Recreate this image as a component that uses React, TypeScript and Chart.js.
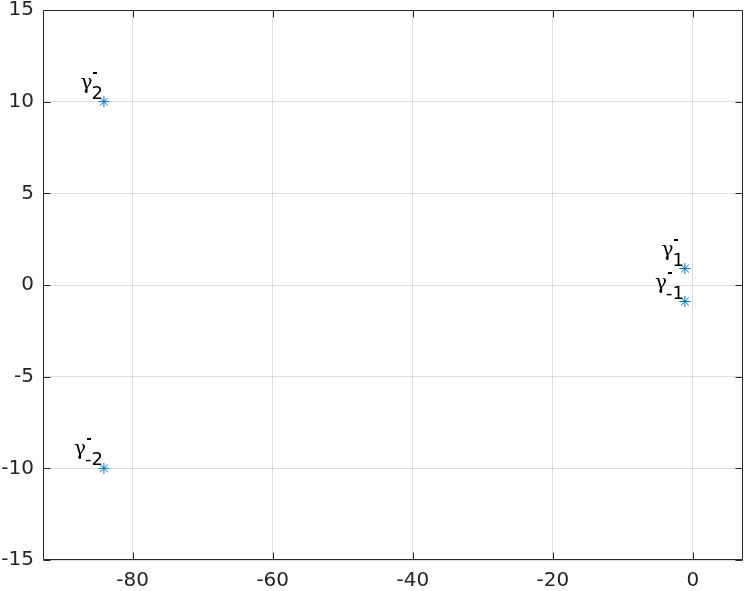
import React, { useEffect, useRef } from "react";
import { Chart, registerables } from "chart.js";

Chart.register(...registerables);

const xValues = [-84.1, -84.1, -1.15, -1.15];
const yValues = [10, -10, 0.9, -0.9];
const subLabels = ["2", "-2", "1", "-1"];
const xTicks = [-80, -60, -40, -20, 0];
const yTicks = [-15, -10, -5, 0, 5, 10, 15];

const AXIS = "#262626";
const FONT = "DejaVu Sans";

const decorPlugin = {
  id: "decor",
  afterDraw(chart: any) {
    const ctx = chart.ctx;
    const { left, right, top, bottom } = chart.chartArea;
    const xs = chart.scales.x;
    const ys = chart.scales.y;
    ctx.save();
    ctx.strokeStyle = AXIS;
    ctx.lineWidth = 1;
    const L = Math.round(left) + 0.5;
    const R = Math.round(right) - 0.5;
    const T = Math.round(top) + 0.5;
    const B = Math.round(bottom) - 0.5;
    ctx.beginPath();
    ctx.rect(L, T, R - L, B - T);
    ctx.stroke();
    const tl = 7;
    ctx.beginPath();
    xTicks.forEach((v) => {
      const px = Math.round(xs.getPixelForValue(v)) + 0.5;
      ctx.moveTo(px, B);
      ctx.lineTo(px, B - tl);
      ctx.moveTo(px, T);
      ctx.lineTo(px, T + tl);
    });
    yTicks.forEach((v) => {
      const py = Math.round(ys.getPixelForValue(v)) + 0.5;
      ctx.moveTo(L, py);
      ctx.lineTo(L + tl, py);
      ctx.moveTo(R, py);
      ctx.lineTo(R - tl, py);
    });
    ctx.stroke();

    // point labels: gamma with bar and subscript
    ctx.fillStyle = "#000000";
    ctx.textBaseline = "alphabetic";
    xValues.forEach((xv, i) => {
      const px = xs.getPixelForValue(xv);
      const py = ys.getPixelForValue(yValues[i]);
      ctx.font = `18px "${FONT}"`;
      ctx.textAlign = "right";
      const sub = subLabels[i];
      const w = ctx.measureText(sub).width;
      const subRight = px - 1;
      ctx.fillText(sub, subRight, py - 3);
      const subStart = subRight - w;
      ctx.font = `20px "DejaVu Serif"`;
      ctx.fillText("\u03B3", subStart + 1, py - 13);
      ctx.fillRect(Math.round(subStart + 2), Math.round(py - 30), 4, 2);
    });
    ctx.restore();
  },
};

export default function App() {
  const ref = useRef<HTMLCanvasElement>(null);
  useEffect(() => {
    document.body.style.margin = "0";
    const canvas = ref.current!;
    const chart = new Chart(canvas, {
      type: "scatter",
      data: {
        datasets: [
          {
            data: xValues.map((x, i) => ({ x, y: yValues[i] })),
            pointStyle: "star",
            radius: 5.5,
            hoverRadius: 5.5,
            borderColor: "#0072BD",
            backgroundColor: "#0072BD",
            borderWidth: 1,
            showLine: false,
          } as any,
        ],
      },
      options: {
        responsive: false,
        animation: false,
        layout: { autoPadding: false, padding: { top: 10, right: 3, left: 0, bottom: 0 } },
        plugins: { legend: { display: false }, tooltip: { enabled: false } },
        scales: {
          x: {
            type: "linear",
            min: -92.8,
            max: 7.15,
            afterBuildTicks: (s: any) => {
              s.ticks = xTicks.map((v) => ({ value: v }));
            },
            afterFit: (s: any) => {
              s.height = 31;
              s.paddingLeft = 0;
              s.paddingRight = 0;
              s.paddingTop = 0;
              s.paddingBottom = 0;
            },
            grid: { color: "rgba(38,38,38,0.15)", drawTicks: false },
            border: { display: false },
            ticks: {
              font: { family: FONT, size: 20 },
              color: AXIS,
              padding: 9,
            },
          },
          y: {
            type: "linear",
            min: -15,
            max: 15,
            afterBuildTicks: (s: any) => {
              s.ticks = yTicks.map((v) => ({ value: v }));
            },
            afterFit: (s: any) => {
              s.width = 43;
              s.paddingLeft = 0;
              s.paddingRight = 0;
              s.paddingTop = 0;
              s.paddingBottom = 0;
            },
            grid: { color: "rgba(38,38,38,0.15)", drawTicks: false },
            border: { display: false },
            ticks: {
              font: { family: FONT, size: 20 },
              color: AXIS,
              padding: 9,
            },
          },
        },
      },
      plugins: [decorPlugin],
    });
    return () => chart.destroy();
  }, []);
  return <canvas ref={ref} width={746} height={591} style={{ display: "block" }} />;
}
